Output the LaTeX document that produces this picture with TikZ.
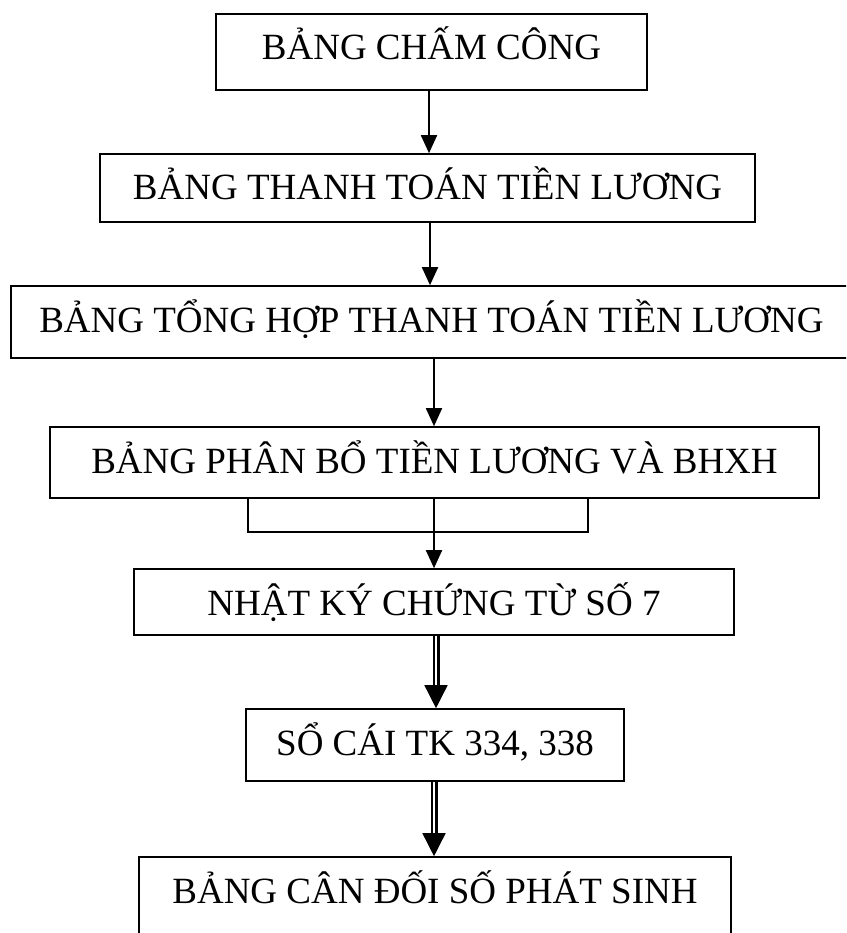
\documentclass[tikz,border=0pt]{standalone}
\usepackage{fontspec}
\setmainfont{Liberation Serif}
\usetikzlibrary{arrows.meta}

\begin{document}
\begin{tikzpicture}[x=1pt,y=-1pt,
  box/.style={draw, line width=1.6pt, fill=white, inner sep=0pt,
    font=\fontsize{37}{44}\selectfont, text height=46pt},
  arr/.style={line width=1.8pt, -{Triangle[width=16pt,length=18pt]}},
  dblshaft/.style={line width=2.2pt, double, double distance=2.6pt},
  dbltip/.style={line width=1.5pt, -{Triangle[width=23pt,length=23pt]}}]
\useasboundingbox (0,0) rectangle (846,933);
\clip (0,0) rectangle (846,933);

% x positions of the vertical connectors
\coordinate (x1) at (429,0);
\coordinate (x2) at (430,0);
\coordinate (x3) at (434,0);
\coordinate (x4) at (434,0);
\coordinate (x5) at (436,0);
\coordinate (x6) at (434,0);

% frame that lies partly behind the BHXH box
\draw[line width=1.6pt] (248,470) rectangle (588,532);

% boxes: text baseline 46pt below each top edge
\node[box, minimum width=431pt, text depth=30pt] (b1) at (431.5,52) {BẢNG CHẤM CÔNG};
\node[box, minimum width=655pt, text depth=22pt] (b2) at (427.5,188) {BẢNG THANH TOÁN TIỀN LƯƠNG};
\node[box, minimum width=859pt, text depth=26pt] (b3) at (440.5,322) {\hspace*{-9pt}BẢNG TỔNG HỢP THANH TOÁN TIỀN LƯƠNG\hspace*{9pt}};
\node[box, minimum width=769pt, text depth=25pt] (b4) at (434.5,462.5) {BẢNG PHÂN BỔ TIỀN LƯƠNG VÀ BHXH};
\node[box, minimum width=600pt, text depth=20pt] (b5) at (434,602) {NHẬT KÝ CHỨNG TỪ SỐ 7};
\node[box, minimum width=378pt, text depth=26pt] (b6) at (435,745) {SỔ CÁI TK 334, 338};
\node[box, minimum width=592pt, text depth=54pt] (b7) at (435,907) {BẢNG CÂN ĐỐI SỐ PHÁT SINH};

% single connectors
\draw[arr] (b1.south -| x1) -- (b2.north -| x1);
\draw[arr] (b2.south -| x2) -- (b3.north -| x2);
\draw[arr] (b3.south -| x3) -- (b4.north -| x3);
\draw[arr] (b4.south -| x4) -- (b5.north -| x4);

% double connectors
\draw[dblshaft, shorten >=22pt] (b5.south -| x5) -- (b6.north -| x5);
\draw[dbltip, shorten <=50pt] (b5.south -| x5) -- (b6.north -| x5);
\draw[dblshaft, shorten >=22pt] (b6.south -| x6) -- (b7.north -| x6);
\draw[dbltip, shorten <=52pt] (b6.south -| x6) -- (b7.north -| x6);
\end{tikzpicture}
\end{document}
